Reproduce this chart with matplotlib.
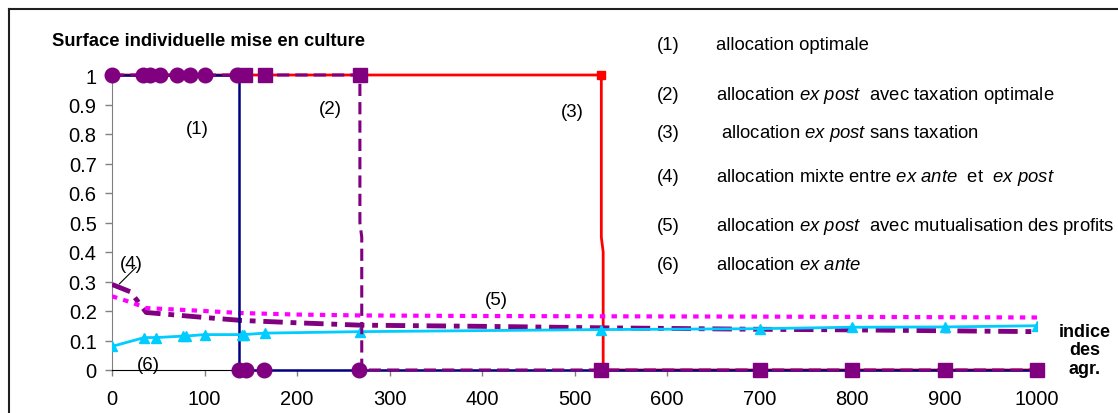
import matplotlib
matplotlib.use("Agg")
import matplotlib.pyplot as plt
from matplotlib.lines import Line2D

plt.rcParams['font.family'] = ['Liberation Sans', 'DejaVu Sans']
plt.rcParams['mathtext.fontset'] = 'custom'
plt.rcParams['mathtext.rm'] = 'Liberation Sans'
plt.rcParams['mathtext.it'] = 'Liberation Sans:italic'

# (1) allocation optimale
x1 = [0, 34, 41, 52, 70, 84, 100, 135, 137, 137, 145, 164, 267, 529, 700, 800, 900, 1000]
y1 = [1, 1, 1, 1, 1, 1, 1, 1, 1, 0, 0, 0, 0, 0, 0, 0, 0, 0]
# (2) ex post avec taxation optimale
x2 = [0, 144, 165, 268, 268, 270, 270, 529, 700, 800, 900, 1000]
y2 = [1, 1, 1, 1, 0.5, 0.45, 0, 0, 0, 0, 0, 0]
# (3) ex post sans taxation
x3 = [0, 529, 529, 531, 531, 1000]
y3 = [1, 1, 0.45, 0.4, 0, 0]
# (4) mixte ex ante / ex post
x4 = [0, 20, 37, 100, 140, 200, 268, 400, 529, 700, 800, 900, 1000]
y4 = [0.29, 0.265, 0.195, 0.178, 0.168, 0.16, 0.152, 0.148, 0.143, 0.138, 0.136, 0.133, 0.13]
# (5) ex post avec mutualisation des profits
x5 = [0, 20, 37, 100, 140, 200, 268, 400, 529, 700, 800, 900, 1000]
y5 = [0.25, 0.23, 0.21, 0.2, 0.193, 0.188, 0.185, 0.183, 0.182, 0.181, 0.18, 0.179, 0.178]
# (6) ex ante
x6 = [0, 35, 48, 77, 80, 100, 140, 143, 165, 268, 529, 700, 800, 900, 1000]
y6 = [0.08, 0.11, 0.11, 0.115, 0.115, 0.12, 0.12, 0.12, 0.125, 0.13, 0.137, 0.14, 0.145, 0.146, 0.15]

legend_nums = ["(1)", "(2)", "(3)", "(4)", "(5)", "(6)"]
legend_txt = [
    "allocation optimale",
    r"allocation $\it{ex\ post}$  avec taxation optimale",
    r" allocation $\it{ex\ post}$ sans taxation",
    r"allocation mixte entre $\it{ex\ ante}$  et  $\it{ex\ post}$",
    r"allocation $\it{ex\ post}$  avec mutualisation des profits",
    r"allocation $\it{ex\ ante}$",
]
legend_y = [45, 96, 134, 178, 227, 266]

fig = plt.figure(figsize=(11.18, 4.14), dpi=100)
ax = fig.add_axes([112 / 1118, 1 - 371 / 414, (1037 - 112) / 1118, (371 - 76) / 414])

ax.plot(x3, y3, color='#FF0000', lw=2.0, marker='s', ms=6, markevery=[1], clip_on=False, zorder=3)
ax.plot(x1, y1, color='#000080', lw=1.8, marker='o', ms=10.5, mfc='#800080', mec='#800080',
        markevery=[0, 1, 2, 3, 4, 5, 6, 7, 9, 10, 11, 12], clip_on=False, zorder=4)
ax.plot(x2, y2, color='#800080', lw=2.2, ls=(0, (4, 2)), marker='s', ms=10,
        markevery=[1, 2, 3, 7, 8, 9, 10, 11], clip_on=False, zorder=5)
ax.plot(x4, y4, color='#800080', lw=3.5, ls=(0, (4, 1.6, 1.2, 1.6)), zorder=3)
ax.plot(x5, y5, color='#FF00FF', lw=3, ls=(0, (1.3, 1.5)), zorder=3)
ax.plot(x6, y6, color='#00CCFF', lw=2.0, marker='^', ms=6.5, zorder=4)

ax.set_xlim(0, 1000)
ax.set_ylim(0, 1)
ax.set_xticks(range(0, 1001, 100))
ax.set_yticks([i / 10 for i in range(11)])
ax.set_yticklabels(["0", "0.1", "0.2", "0.3", "0.4", "0.5", "0.6", "0.7", "0.8", "0.9", "1"])
ax.tick_params(axis='y', direction='out', length=5, width=1, color='#808080', pad=6, labelsize=14.5)
ax.tick_params(axis='x', direction='out', length=4, width=1, color='#808080', pad=10, labelsize=14.5)
for s in ['top', 'right']:
    ax.spines[s].set_visible(False)
ax.spines['left'].set_color('#808080')
ax.spines['bottom'].set_color('black')

ax.text(92, 0.82, "(1)", fontsize=13.5, ha='center', va='center')
ax.text(236, 0.885, "(2)", fontsize=13.5, ha='center', va='center')
ax.text(498, 0.875, "(3)", fontsize=13.5, ha='center', va='center')
ax.text(416, 0.24, "(5)", fontsize=13.5, ha='center', va='center')
ax.text(39, 0.02, "(6)", fontsize=13.5, ha='center', va='center')
ax.text(21, 0.362, "(4)", fontsize=13.5, ha='center', va='center')
ax.plot([8, 26], [0.292, 0.348], color='black', lw=0.8, zorder=6)

fig.text(52 / 1118, 1 - 41 / 414, "Surface individuelle mise en culture", fontsize=13.2,
         fontweight='bold', ha='left', va='center')
fig.text(1085 / 1118, 1 - 351 / 414, "indice\ndes\nagr.", fontsize=13, fontweight='bold',
         ha='center', va='center', linespacing=1.15)

for num, txt, yy in zip(legend_nums, legend_txt, legend_y):
    fig.text(657 / 1118, 1 - yy / 414, num, fontsize=13.3, ha='left', va='center')
    fig.text(716 / 1118, 1 - yy / 414, txt, fontsize=13.3, ha='left', va='center')

fig.add_artist(Line2D([9 / 1118, 9 / 1118], [0, 1 - 10 / 414], transform=fig.transFigure,
                      color='#202020', lw=1.5))
fig.add_artist(Line2D([9 / 1118, 1], [1 - 10 / 414, 1 - 10 / 414], transform=fig.transFigure,
                      color='#202020', lw=1.5))

fig.savefig("out.png", dpi=100)
